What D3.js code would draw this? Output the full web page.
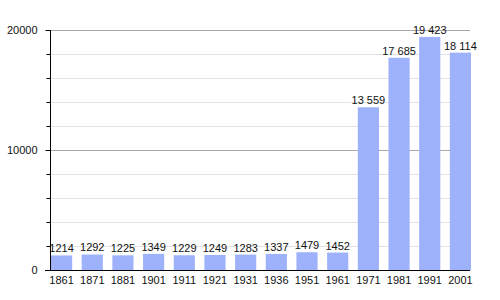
<!DOCTYPE html>
<html>
<head>
<meta charset="utf-8">
<script src="https://cdn.jsdelivr.net/npm/d3@7"></script>
<style>
body{margin:0;background:#fff;}
text{font-family:"Liberation Sans",Arial,sans-serif;font-size:11px;fill:#111;}
</style>
</head>
<body>
<svg width="500" height="300"></svg>
<script>
// census years and population
var years = ["1861","1871","1881","1901","1911","1921","1931","1936","1951","1961","1971","1981","1991","2001"];
var population = [1214,1292,1225,1349,1229,1249,1283,1337,1479,1452,13559,17685,19423,18114];
var majorTicks = [0,10000,20000];
var minorTicks = [2000,4000,6000,8000,12000,14000,16000,18000];

var plotLeft = 50, plotRight = 470, plotTop = 30, plotBottom = 270;
var barColor = "#9db2fa";

var svg = d3.select("svg");

var x = d3.scaleBand()
	.domain(years)
	.range([51, 471])
	.paddingInner(0.31)
	.paddingOuter(0);

var y = d3.scaleLinear()
	.domain([0, 20000])
	.range([plotBottom, plotTop]);

//light grid lines
svg.selectAll("line.minor")
	.data(minorTicks)
	.enter().append("line")
	.attr("class","minor")
	.attr("x1", plotLeft).attr("x2", plotRight)
	.attr("y1", function(d){ return y(d)+0.5; })
	.attr("y2", function(d){ return y(d)+0.5; })
	.style("stroke","#e2e2e2");
//major grid lines
svg.selectAll("line.major")
	.data([10000,20000])
	.enter().append("line")
	.attr("class","major")
	.attr("x1", plotLeft).attr("x2", plotRight)
	.attr("y1", function(d){ return y(d)+0.5; })
	.attr("y2", function(d){ return y(d)+0.5; })
	.style("stroke","#a8a8a8");

//bars
svg.selectAll("rect.bar")
	.data(population)
	.enter().append("rect")
	.attr("class","bar")
	.attr("x", function(d,i){ return x(years[i]); })
	.attr("width", x.bandwidth())
	.attr("y", function(d){ return y(d); })
	.attr("height", function(d){ return plotBottom - y(d); })
	.style("fill", barColor);

//value labels
var fmt = function(v){ return v >= 10000 ? d3.format(",")(v).replace(",", " ") : String(v); };
svg.selectAll("text.val")
	.data(population)
	.enter().append("text")
	.attr("class","val")
	.attr("x", function(d,i){ return x(years[i]) + x.bandwidth()/2; })
	.attr("y", function(d){ return y(d) - 3; })
	.attr("text-anchor","middle")
	.text(fmt);

//y axis
var yMinor = d3.axisLeft(y).tickValues(minorTicks).tickSize(4).tickFormat("");
svg.append("g")
	.attr("transform","translate(" + (plotLeft+0.5) + ",0)")
	.call(yMinor)
	.call(function(g){ g.select(".domain").remove(); });
var yAxis = d3.axisLeft(y).tickValues(majorTicks).tickSize(5).tickPadding(8).tickFormat(d3.format("d"));
svg.append("g")
	.attr("transform","translate(" + (plotLeft+0.5) + ",0)")
	.call(yAxis)
	.call(function(g){
		g.select(".domain").attr("d","M0," + plotTop + "V" + plotBottom);
		g.selectAll("text").style("font-size","11px").style("font-family","'Liberation Sans',Arial,sans-serif");
	});

//x axis
var xAxis = d3.axisBottom(x).tickSize(0).tickPadding(6);
svg.append("g")
	.attr("transform","translate(0," + (plotBottom+0.5) + ")")
	.call(xAxis)
	.call(function(g){
		g.select(".domain").attr("d","M" + (plotLeft-5) + ",0H" + plotRight);
		g.selectAll("text").style("font-size","11px").style("font-family","'Liberation Sans',Arial,sans-serif");
	});
</script>
</body>
</html>
